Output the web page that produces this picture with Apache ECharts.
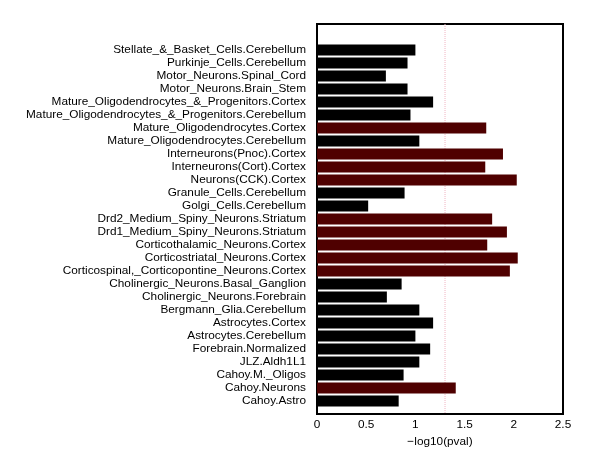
<!DOCTYPE html>
<html>
<head>
<meta charset="utf-8">
<script src="https://cdn.jsdelivr.net/npm/echarts@6/dist/echarts.min.js"></script>
<style>
  html, body { margin: 0; padding: 0; background: #fff; }
  #chart { width: 600px; height: 459px; }
</style>
</head>
<body>
<div id="chart"></div>
<script>
// cell types, top to bottom
var categories = [
    'Stellate_&_Basket_Cells.Cerebellum',
    'Purkinje_Cells.Cerebellum',
    'Motor_Neurons.Spinal_Cord',
    'Motor_Neurons.Brain_Stem',
    'Mature_Oligodendrocytes_&_Progenitors.Cortex',
    'Mature_Oligodendrocytes_&_Progenitors.Cerebellum',
    'Mature_Oligodendrocytes.Cortex',
    'Mature_Oligodendrocytes.Cerebellum',
    'Interneurons(Pnoc).Cortex',
    'Interneurons(Cort).Cortex',
    'Neurons(CCK).Cortex',
    'Granule_Cells.Cerebellum',
    'Golgi_Cells.Cerebellum',
    'Drd2_Medium_Spiny_Neurons.Striatum',
    'Drd1_Medium_Spiny_Neurons.Striatum',
    'Corticothalamic_Neurons.Cortex',
    'Corticostriatal_Neurons.Cortex',
    'Corticospinal,_Corticopontine_Neurons.Cortex',
    'Cholinergic_Neurons.Basal_Ganglion',
    'Cholinergic_Neurons.Forebrain',
    'Bergmann_Glia.Cerebellum',
    'Astrocytes.Cortex',
    'Astrocytes.Cerebellum',
    'Forebrain.Normalized',
    'JLZ.Aldh1L1',
    'Cahoy.M._Oligos',
    'Cahoy.Neurons',
    'Cahoy.Astro'
];
// -log10(pval)
var values = [
    1.00, 0.92, 0.70, 0.92, 1.18, 0.95, 1.72, 1.04,
    1.89, 1.71, 2.03, 0.89, 0.52, 1.78, 1.93, 1.73,
    2.04, 1.96, 0.86, 0.71, 1.04, 1.18, 1.00, 1.15,
    1.04, 0.88, 1.41, 0.83
];
var xTicks = [0, 0.5, 1, 1.5, 2, 2.5];
var cutoff = -Math.log10(0.05);

// empty slots: two above, one below
var axisData = ['', ''].concat(categories, ['']);
var barData = ['-', '-'].concat(values.map(function (v) {
    return {
        value: v,
        itemStyle: { color: v > cutoff ? '#4f0000' : '#000' }
    };
}), ['-']);
// cutoff line runs the full height, under the bars
var cutoffLine = [[cutoff, 0], [cutoff, axisData.length - 1]];

var myChart = echarts.init(document.getElementById('chart'));
var font = 'Liberation Sans, Arial, sans-serif';
var fs = 11.8;

var option = {
    animation: false,
    grid: {
        left: 317,
        right: 37,
        top: 24,
        bottom: 45,
        show: true,
        borderColor: '#000',
        borderWidth: 2
    },
    xAxis: {
        type: 'value',
        min: xTicks[0],
        max: xTicks[xTicks.length - 1],
        interval: 0.5,
        axisLine: { show: false },
        axisTick: { show: false },
        splitLine: { show: false },
        axisLabel: {
            color: '#000',
            fontSize: fs,
            fontFamily: font,
            margin: 5
        },
        name: '\u2212log10(pval)',
        nameLocation: 'middle',
        nameGap: 21,
        nameTextStyle: { color: '#000', fontSize: fs, fontFamily: font }
    },
    yAxis: {
        type: 'category',
        inverse: true,
        boundaryGap: false,
        data: axisData,
        axisLine: { show: false },
        axisTick: { show: false },
        splitLine: { show: false },
        axisLabel: {
            color: '#000',
            fontSize: fs,
            fontFamily: font,
            margin: 11,
            interval: 0
        }
    },
    series: [
        {
            type: 'line',
            z: 1,
            silent: true,
            symbol: 'none',
            lineStyle: { color: '#f0b4c2', type: 'dotted', width: 1 },
            data: cutoffLine
        },
        {
            type: 'bar',
            z: 3,
            barWidth: 11,
            data: barData
        }
    ]
};
myChart.setOption(option, true);

window.onresize = function () {
    myChart.resize();
};
</script>
</body>
</html>
